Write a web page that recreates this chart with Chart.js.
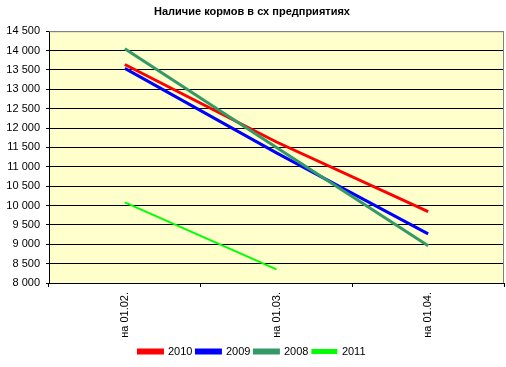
<!DOCTYPE html>
<html lang="ru">
<head>
  <meta charset="UTF-8">
  <script src="https://cdn.jsdelivr.net/npm/chart.js"></script>
  <title>Наличие кормов</title>
  <style>
    html, body { margin: 0; padding: 0; background: #fff; }
    #wrap { width: 506px; height: 367px; }
  </style>
</head>
<body>
  <div id="wrap">
    <canvas id="grafico"></canvas>
  </div>
<script>
  // данные
  var datas = ['на 01.02.', 'на 01.03.', 'на 01.04.']
  var anos = ['2010', '2009', '2008', '2011']
  var v2010 = [13640, 11640, 9840]
  var v2009 = [13540, 11360, 9270]
  var v2008 = [14050, 11500, 8960]
  var v2011 = [10080, 8350, null]
  var cores = ['#FF0000', '#0000FF', '#339966', '#00FF00']

  // фон области построения и серая рамка сверху/справа
  var fundoPlot = {
    id: 'fundoPlot',
    beforeDraw(chart) {
      var a = chart.chartArea
      var ctx = chart.ctx
      ctx.save()
      ctx.fillStyle = '#FFFFCC'
      ctx.fillRect(a.left, a.top, a.right - a.left, a.bottom - a.top)
      ctx.restore()
    },
    afterDraw(chart) {
      var a = chart.chartArea
      var ctx = chart.ctx
      ctx.save()
      ctx.strokeStyle = '#808080'
      ctx.lineWidth = 1
      ctx.beginPath()
      ctx.moveTo(a.left, a.top + 0.5)
      ctx.lineTo(a.right - 0.5, a.top + 0.5)
      ctx.lineTo(a.right - 0.5, a.bottom)
      ctx.stroke()
      ctx.restore()
    }
  }

  function serie(i, valores, largura, ordem) {
    return {
      label: anos[i],
      data: valores,
      borderColor: cores[i],
      backgroundColor: cores[i],
      borderWidth: largura,
      pointRadius: 0,
      tension: 0,
      order: ordem
    }
  }

  var data = {
    labels: datas,
    datasets: [
      serie(0, v2010, 3, 4),
      serie(1, v2009, 3, 3),
      serie(2, v2008, 3, 2),
      serie(3, v2011, 2, 1)
    ]
  }

  var config = {
    type: 'line',
    data: data,
    plugins: [fundoPlot],
    options: {
      responsive: true,
      maintainAspectRatio: false,
      animation: false,
      layout: { padding: { left: 0, right: 2, top: 0, bottom: 0 } },
      plugins: {
        title: {
          display: true,
          text: 'Наличие кормов в сх предприятиях',
          color: '#000',
          font: { family: 'Arial, "Liberation Sans"', size: 11, weight: 'bold' },
          padding: { top: 5, bottom: 13 }
        },
        legend: {
          position: 'bottom',
          labels: {
            color: '#000',
            font: { family: 'Arial, "Liberation Sans"', size: 11 },
            boxWidth: 24,
            boxHeight: 3,
            padding: 4,
            sort: (a, b) => a.datasetIndex - b.datasetIndex
          }
        },
        tooltip: { enabled: false }
      },
      scales: {
        x: {
          offset: true,
          grid: {
            offset: true,
            drawOnChartArea: false,
            drawTicks: true,
            tickLength: 4,
            tickColor: '#000'
          },
          border: { color: '#000', width: 1 },
          ticks: {
            color: '#000',
            font: { family: 'Arial, "Liberation Sans"', size: 11 },
            minRotation: 90,
            maxRotation: 90,
            padding: 5
          },
          afterFit(scale) { scale.height = 59 }
        },
        y: {
          min: 8000,
          max: 14500,
          grid: {
            color: (c) => c.tick && c.tick.value === 14500 ? '#808080' : '#000',
            tickColor: '#000',
            tickLength: 3,
            lineWidth: 1
          },
          border: { color: '#000', width: 1 },
          ticks: {
            stepSize: 500,
            color: '#000',
            padding: 6,
            font: { family: 'Arial, "Liberation Sans"', size: 11 },
            callback: (v) => String(v).replace(/\B(?=(\d{3})+(?!\d))/g, ' ')
          },
          afterFit(scale) { scale.width = 49 }
        }
      }
    }
  }

  new Chart(document.getElementById('grafico'), config)
</script>
</body>
</html>
